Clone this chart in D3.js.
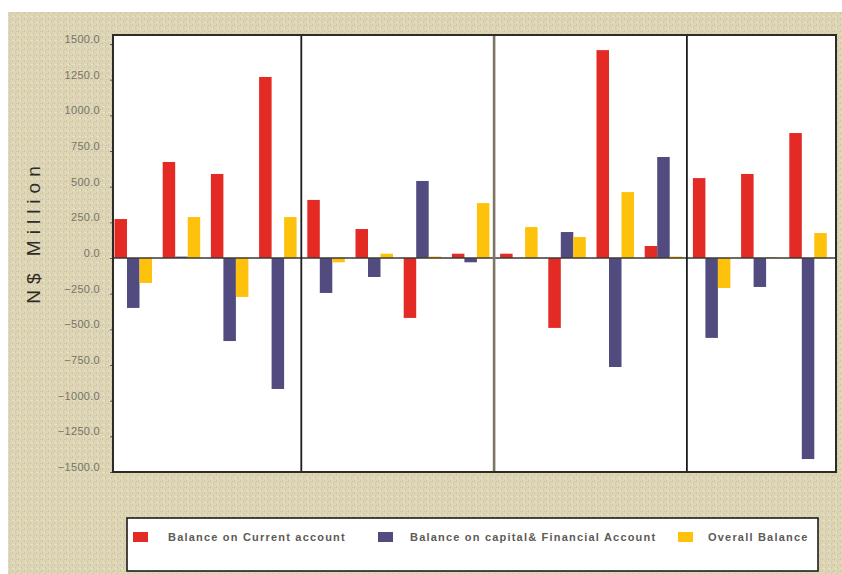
<!DOCTYPE html>
<html>
<head>
<meta charset="utf-8">
<script src="https://cdn.jsdelivr.net/npm/d3@7/dist/d3.min.js"></script>
<style>
  html, body { margin: 0; padding: 0; background: #ffffff; }
  svg { display: block; }
</style>
</head>
<body>
<svg id="chart" width="842" height="574"></svg>
<script>
// Quarterly balance of payments, N$ million, grouped by year
const quarters = ["Q1","Q2","Q3","Q4","Q1","Q2","Q3","Q4","Q1","Q2","Q3","Q4","Q1","Q2","Q3"];
const yearIndex = [0,0,0,0,1,1,1,1,2,2,2,2,3,3,3];
const seriesNames = ["Balance on Current account", "Balance on capital& Financial Account", "Overall Balance"];
const currentAccount = [273, 673, 589, 1269, 407, 203, -420, 30, 30, -490, 1457, 84, 560, 589, 876];
const capitalFinancial = [-350, 10, -582, -918, -245, -133, 540, -30, 0, 182, -764, 708, -560, -203, -1409];
const overallBalance = [-175, 287, -273, 287, -30, 30, 10, 385, 217, 147, 462, 10, -210, 5, 175];
const yTicks = [1500, 1250, 1000, 750, 500, 250, 0, -250, -500, -750, -1000, -1250, -1500];
const colors = ["#e42a24", "#524b80", "#fec20c"];

const svg = d3.select("#chart");

// textured backdrop
const defs = svg.append("defs");
const pat = defs.append("pattern").attr("id", "grain")
  .attr("width", 6).attr("height", 6).attr("patternUnits", "userSpaceOnUse");
pat.append("rect").attr("width", 6).attr("height", 6).attr("fill", "#ddd6b1");
pat.append("rect").attr("x", 0).attr("y", 0).attr("width", 1).attr("height", 2).attr("fill", "#d8bcc3");
pat.append("rect").attr("x", 3).attr("y", 3).attr("width", 1).attr("height", 2).attr("fill", "#bec3d2");
pat.append("rect").attr("x", 1).attr("y", 4).attr("width", 2).attr("height", 1).attr("fill", "#ece6c6");
pat.append("rect").attr("x", 4).attr("y", 1).attr("width", 1).attr("height", 1).attr("fill", "#c9c09c");
svg.append("rect").attr("x", 8).attr("y", 12).attr("width", 834).attr("height", 562).attr("fill", "url(#grain)");

const plot = { left: 113, right: 836, top: 35, bottom: 472 };

const x0 = d3.scaleBand().domain(d3.range(quarters.length)).range([plot.left, plot.right]).padding(0);
const x1 = d3.scaleBand().domain(d3.range(3)).range([1.5, 39]).padding(0);
const y = d3.scaleLinear().domain([-1500, 1500]).range([plot.bottom, 44]);

// plot area
svg.append("rect")
  .attr("x", plot.left).attr("y", plot.top)
  .attr("width", plot.right - plot.left).attr("height", plot.bottom - plot.top)
  .attr("fill", "#ffffff");

// y axis
const yAxis = d3.axisLeft(y).tickValues(yTicks).tickSize(3).tickPadding(10)
  .tickFormat(d => d3.format(".1f")(d));
const gy = svg.append("g").attr("transform", `translate(${plot.left},0)`).call(yAxis);
gy.select(".domain").remove();
gy.selectAll(".tick line").attr("stroke", "#555");
gy.selectAll(".tick text")
  .attr("dy", "-0.15em")
  .attr("fill", "#77736a")
  .style("font-family", "'Liberation Sans Narrow', 'Liberation Sans', Arial, sans-serif")
  .style("font-size", "11px")
  .style("letter-spacing", "0.3px");

// bars
const series = [currentAccount, capitalFinancial, overallBalance];
const groups = svg.append("g").selectAll("g")
  .data(quarters.map((q, i) => i))
  .join("g")
  .attr("transform", i => `translate(${x0(i)},0)`);
groups.selectAll("rect")
  .data(i => series.map((s, k) => ({ k, v: s[i] })))
  .join("rect")
  .attr("x", d => x1(d.k))
  .attr("width", x1.bandwidth())
  .attr("y", d => y(Math.max(0, d.v)))
  .attr("height", d => Math.abs(y(d.v) - y(0)))
  .attr("fill", d => colors[d.k]);

// zero line
svg.append("line")
  .attr("x1", plot.left).attr("x2", plot.right)
  .attr("y1", y(0)).attr("y2", y(0))
  .attr("stroke", "#3d3a33").attr("stroke-width", 1.6);

// year dividers
const boundaries = d3.range(1, quarters.length).filter(i => yearIndex[i] !== yearIndex[i - 1]);
const dividerColors = ["#1c1c1c", "#7d7666", "#1c1c1c"];
svg.append("g").selectAll("line")
  .data(boundaries)
  .join("line")
  .attr("x1", i => x0(i) - 4.5).attr("x2", i => x0(i) - 4.5)
  .attr("y1", plot.top).attr("y2", plot.bottom)
  .attr("stroke", (d, j) => dividerColors[j % dividerColors.length])
  .attr("stroke-width", (d, j) => j === 1 ? 2.6 : 1.8);

// frame
svg.append("rect")
  .attr("x", plot.left).attr("y", plot.top)
  .attr("width", plot.right - plot.left).attr("height", plot.bottom - plot.top)
  .attr("fill", "none").attr("stroke", "#2e2b25").attr("stroke-width", 2);

// axis title
svg.append("text")
  .attr("transform", `translate(40,232) rotate(-90)`)
  .attr("text-anchor", "middle")
  .attr("fill", "#2f2c28")
  .style("font-family", "'Liberation Sans', Arial, sans-serif")
  .style("font-size", "19px")
  .style("letter-spacing", "6px")
  .text("N$ Million");

// legend
const legend = svg.append("g");
legend.append("rect")
  .attr("x", 127).attr("y", 518).attr("width", 691).attr("height", 53)
  .attr("fill", "#ffffff").attr("stroke", "#1e1c19").attr("stroke-width", 1.6);
const legendX = [133, 378, 678];
const items = legend.selectAll("g.item")
  .data(seriesNames)
  .join("g").attr("class", "item")
  .attr("transform", (d, i) => `translate(${legendX[i]},537)`);
items.append("rect")
  .attr("x", 0).attr("y", -5).attr("width", 15).attr("height", 10)
  .attr("fill", (d, i) => colors[i]);
items.append("text")
  .attr("x", (d, i) => [35, 32, 30][i]).attr("y", 0).attr("dy", "0.35em")
  .attr("fill", "#5e5a55")
  .style("font-family", "'Liberation Sans Narrow', 'Liberation Sans', Arial, sans-serif")
  .style("font-size", "11px")
  .style("font-weight", "bold")
  .style("letter-spacing", "1.2px")
  .text(d => d);
</script>
</body>
</html>
